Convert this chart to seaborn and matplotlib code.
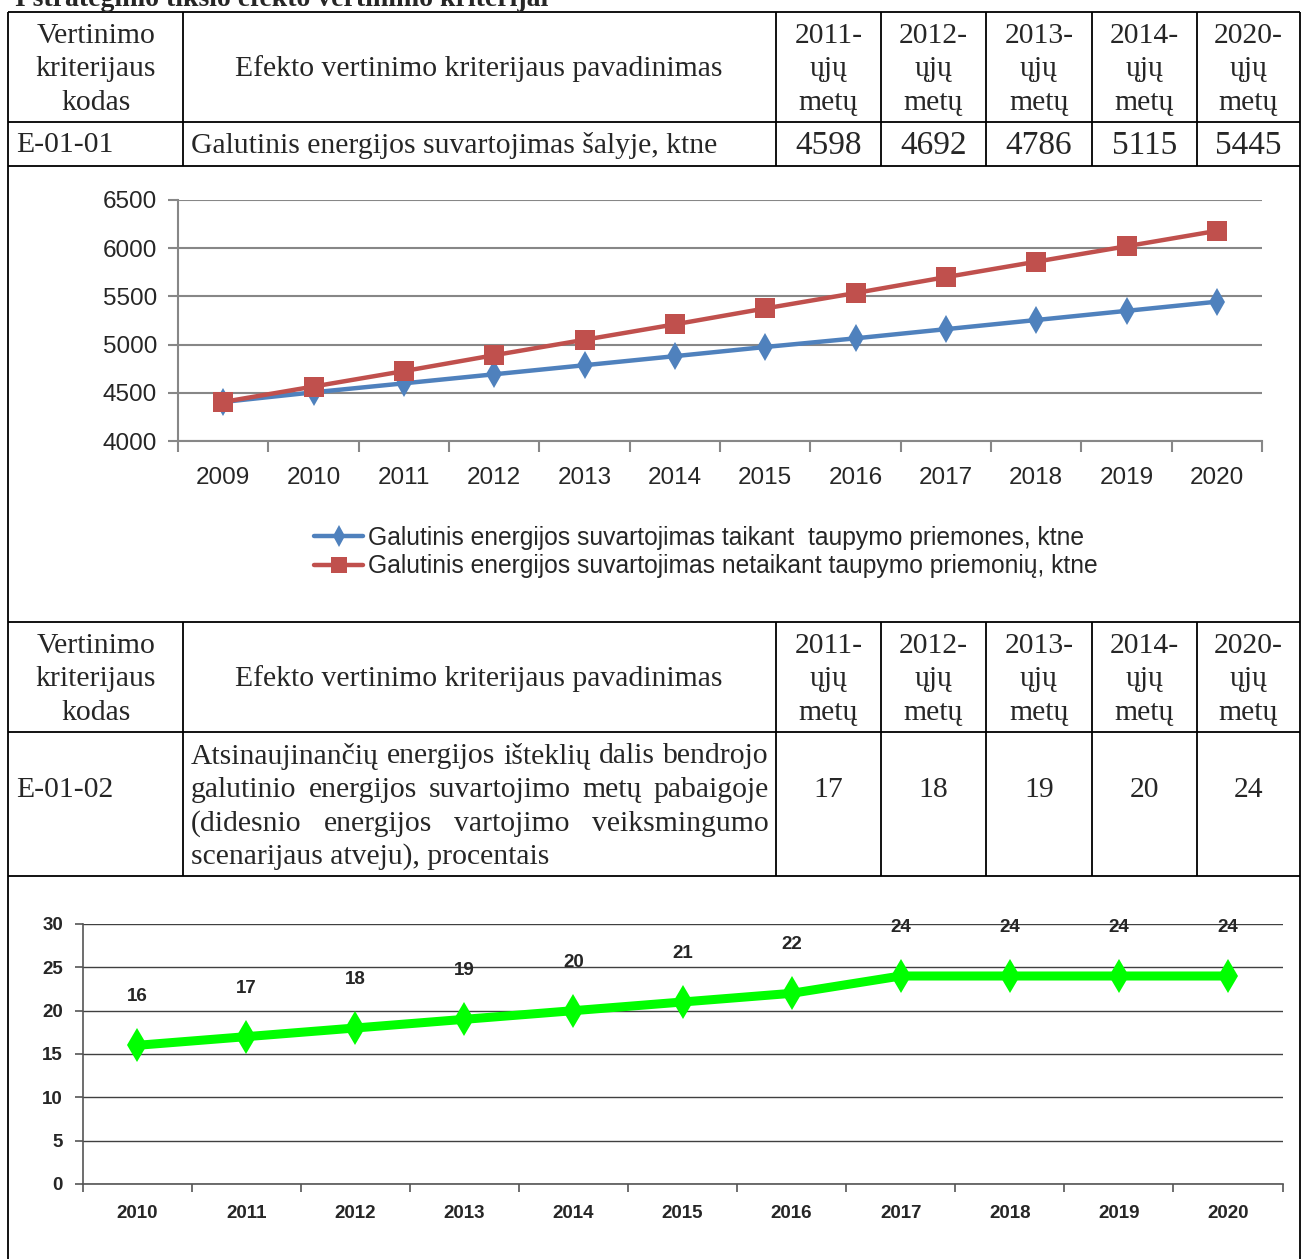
import matplotlib
matplotlib.use("Agg")
import matplotlib.pyplot as plt
import seaborn as sns
import pandas as pd

# ---------------------- DATA ----------------------
title = "I strateginio tikslo efekto vertinimo kriterijai"
head_code = ["Vertinimo", "kriterijaus", "kodas"]
head_name = "Efekto vertinimo kriterijaus pavadinimas"
head_years = ["2011-", "2012-", "2013-", "2014-", "2020-"]

code1 = "E-01-01"
name1 = "Galutinis energijos suvartojimas šalyje, ktne"
vals1 = ["4598", "4692", "4786", "5115", "5445"]

code2 = "E-01-02"
name2_lines = ["Atsinaujinančių energijos išteklių dalis bendrojo",
               "galutinio energijos suvartojimo metų pabaigoje",
               "(didesnio energijos vartojimo veiksmingumo",
               "scenarijaus atveju), procentais"]
vals2 = ["17", "18", "19", "20", "24"]

years1 = [2009, 2010, 2011, 2012, 2013, 2014, 2015, 2016, 2017, 2018, 2019, 2020]
with_saving = [4405, 4505, 4598, 4692, 4786, 4880, 4975, 5065, 5160, 5255, 5350, 5445]
without_saving = [4405, 4565, 4725, 4890, 5050, 5210, 5375, 5535, 5700, 5860, 6020, 6180]
label_with = "Galutinis energijos suvartojimas taikant  taupymo priemones, ktne"
label_without = "Galutinis energijos suvartojimas netaikant taupymo priemonių, ktne"

years2 = [2010, 2011, 2012, 2013, 2014, 2015, 2016, 2017, 2018, 2019, 2020]
renew_share = [16, 17, 18, 19, 20, 21, 22, 24, 24, 24, 24]

# ---------------------- FIGURE ----------------------
sns.set_theme(style="white")
plt.rcParams["font.family"] = ["Liberation Sans", "DejaVu Sans"]

W, H = 1301, 1259
fig = plt.figure(figsize=(W / 100, H / 100), dpi=100)
fig.patch.set_facecolor("white")

bg = fig.add_axes([0, 0, 1, 1], zorder=0)
bg.set_xlim(0, W)
bg.set_ylim(H, 0)
bg.axis("off")

serif = ["Liberation Serif", "DejaVu Serif"]
fs = 21.3
lw = 1.3

def hline(y, x0=8, x1=1300):
    bg.plot([x0, x1], [y, y], color="black", lw=lw, solid_capstyle="butt")

def vline(x, y0, y1):
    bg.plot([x, x], [y0, y1], color="black", lw=lw, solid_capstyle="butt")

def put(x, y, s, ha="center", size=fs, **kw):
    return bg.text(x, y + 2, s, ha=ha, va="center", fontsize=size, family=serif, **kw)

# title (cut at the top edge, as in the source page)
bg.text(15, 6, title, ha="left", va="baseline", fontsize=20,
        family=serif, fontweight="bold")

# table grid
for y in [12, 122, 166, 622, 732, 876]:
    hline(y)
vline(8, 12, H)
vline(1300, 12, H)
col_x = [183, 776, 881, 986, 1092, 1197]
for x in col_x:
    vline(x, 12, 166)
    vline(x, 622, 876)

year_cx = [828.5, 933.5, 1039, 1144.5, 1248.5]

def header(top):
    ys = [top + 22, top + 55, top + 89]
    for s, y in zip(head_code, ys):
        put(96, y, s)
    put(479, ys[1], head_name)
    for cx, yr in zip(year_cx, head_years):
        put(cx, ys[0], yr)
        put(cx, ys[1], "ųjų")
        put(cx, ys[2], "metų")

header(12)
header(622)

put(16, 143, code1, ha="left")
put(191, 143, name1, ha="left")
for cx, v in zip(year_cx, vals1):
    put(cx, 144, v, size=24)

put(16, 788, code2, ha="left")
for cx, v in zip(year_cx, vals2):
    put(cx, 788, v)

# justified text block
fig.canvas.draw()
renderer = fig.canvas.get_renderer()
inv = bg.transData.inverted()
line_y = [754, 788, 822, 855]
x_left, x_right = 191, 769
for i, (line, y) in enumerate(zip(name2_lines, line_y)):
    if i == len(name2_lines) - 1:
        put(x_left, y, line, ha="left")
        continue
    words = line.split(" ")
    texts = [put(0, y, w, ha="left") for w in words]
    widths = []
    for t in texts:
        bb = t.get_window_extent(renderer)
        widths.append(inv.transform((bb.x1, 0))[0] - inv.transform((bb.x0, 0))[0])
    gap = (x_right - x_left - sum(widths)) / (len(words) - 1)
    x = x_left
    for t, wd in zip(texts, widths):
        t.set_x(x)
        x += wd + gap

# ---------------------- CHART 1 ----------------------
df1 = pd.DataFrame({
    "year": years1 * 2,
    "value": with_saving + without_saving,
    "series": [label_with] * len(years1) + [label_without] * len(years1),
})

ax1 = fig.add_axes([178 / W, 1 - 441 / H, (1262 - 178) / W, 241 / H], zorder=2)
sns.lineplot(data=df1, x="year", y="value", hue="series", style="series",
             markers=["d", "s"], dashes=False, palette=["#4F81BD", "#C0504D"],
             linewidth=3.2, markersize=14, markeredgewidth=0, ax=ax1)
ax1.set_xlim(2008.5, 2020.5)
ax1.set_ylim(4000, 6500)
ax1.set_yticks(range(4000, 6501, 500))
ax1.set_xticks(years1)
ax1.set_xticks([y + 0.5 for y in years1[:-1]] + [2008.5, 2020.5], minor=True)
ax1.set_xlabel("")
ax1.set_ylabel("")
ax1.grid(axis="y", color="#878787", lw=1.5)
ax1.set_axisbelow(True)
for side in ["top", "right"]:
    ax1.spines[side].set_visible(False)
for side in ["left", "bottom"]:
    ax1.spines[side].set_color("#878787")
    ax1.spines[side].set_linewidth(1.5)
ax1.tick_params(axis="x", which="major", length=0, pad=19, labelsize=17.5)
ax1.tick_params(axis="x", which="minor", bottom=True, length=8, width=1.5,
                color="#878787", direction="out")
ax1.tick_params(axis="y", left=True, length=7, width=1.5, color="#878787",
                labelsize=17.5, pad=8)
ax1.set_facecolor("none")

handles, labels = ax1.get_legend_handles_labels()
ax1.get_legend().remove()
leg = fig.legend(handles, labels, loc="center", bbox_to_anchor=(706 / W, 1 - 552 / H),
                 frameon=False, fontsize=17.7, handlelength=2.0, handletextpad=0.2,
                 labelspacing=0.2)
for h in leg.legend_handles:
    h.set_markersize(11)

# ---------------------- CHART 2 ----------------------
df2 = pd.DataFrame({"year": years2, "share": renew_share})

ax2 = fig.add_axes([82.5 / W, 1 - 1184 / H, 1200 / W, 260 / H], zorder=2)
sns.lineplot(data=df2, x="year", y="share", color="#00FF00", marker="d",
             linewidth=6.5, markersize=17, markeredgewidth=0, ax=ax2)
for x, v in zip(years2, renew_share):
    ax2.annotate(str(v), (x, v), xytext=(0, 35), textcoords="offset points",
                 ha="center", va="center", fontsize=13.5, fontweight="bold")
ax2.set_xlim(2009.5, 2020.5)
ax2.set_ylim(0, 30)
ax2.set_yticks(range(0, 31, 5))
ax2.set_xticks(years2)
ax2.set_xticks([y + 0.5 for y in years2[:-1]] + [2009.5, 2020.5], minor=True)
ax2.set_xlabel("")
ax2.set_ylabel("")
ax2.grid(axis="y", color="#404040", lw=1.0)
ax2.set_axisbelow(True)
for side in ["top", "right"]:
    ax2.spines[side].set_visible(False)
for side in ["left", "bottom"]:
    ax2.spines[side].set_color("#555555")
    ax2.spines[side].set_linewidth(1.2)
ax2.tick_params(axis="x", which="major", length=0, pad=15)
ax2.tick_params(axis="x", which="minor", bottom=True, length=6, width=1.2,
                color="#555555", direction="out")
ax2.tick_params(axis="y", left=True, length=6, width=1.2, color="#555555", pad=8)
for t in ax2.get_xticklabels() + ax2.get_yticklabels():
    t.set_fontweight("bold")
    t.set_fontsize(13.5)
ax2.set_facecolor("none")

fig.savefig("out.png", dpi=100)
